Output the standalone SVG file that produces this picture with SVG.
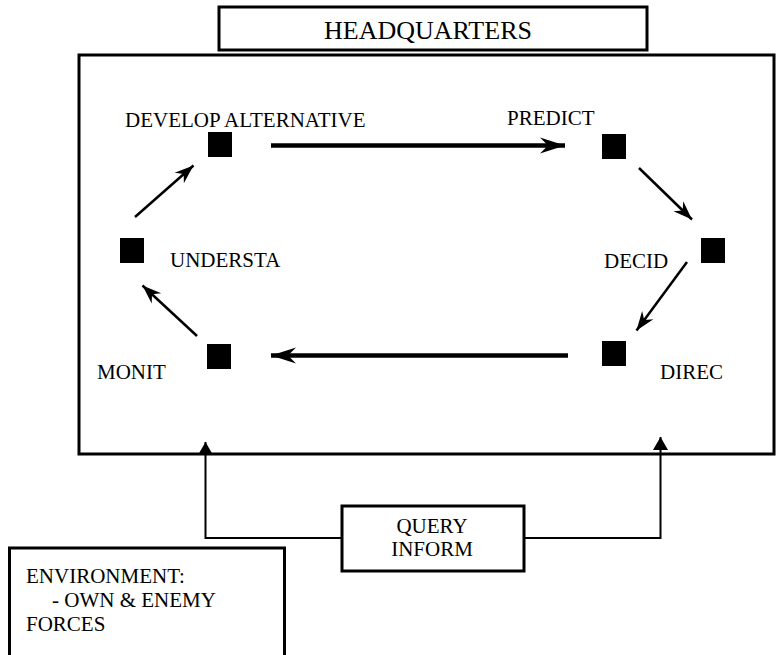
<svg xmlns="http://www.w3.org/2000/svg" width="776" height="655" viewBox="0 0 776 655">
  <style>
    .box { fill: #fff; stroke: #000; stroke-width: 3; }
    .sq { fill: #000; }
    .lbl { font-family: "Liberation Serif", "Times New Roman", serif; font-size: 21px; fill: #000; }
    .hq { font-family: "Liberation Serif", "Times New Roman", serif; font-size: 26px; fill: #000; }
    .thick { stroke: #000; stroke-width: 4.5; fill: none; }
    .thin { stroke: #000; stroke-width: 2.5; fill: none; }
    .link { stroke: #000; stroke-width: 2; fill: none; }
  </style>
  <defs>
    <marker id="barbBig" markerUnits="userSpaceOnUse" orient="auto" markerWidth="30" markerHeight="20" refX="26" refY="9" viewBox="0 0 30 20">
      <path d="M26,9 L1,1 L9,9 L1,17 Z" fill="#000"/>
    </marker>
    <marker id="barbSmall" markerUnits="userSpaceOnUse" orient="auto" markerWidth="24" markerHeight="18" refX="20" refY="8" viewBox="0 0 24 18">
      <path d="M20,8 L1,1 L7,8 L1,15 Z" fill="#000"/>
    </marker>
    <marker id="tri" markerUnits="userSpaceOnUse" orient="auto" markerWidth="16" markerHeight="18" refX="13" refY="8" viewBox="0 0 16 18">
      <path d="M13,8 L0,0.5 L0,15.5 Z" fill="#000"/>
    </marker>
  </defs>

  <!-- headquarters frame -->
  <g id="headquarters">
    <rect class="box" x="219" y="7" width="428" height="43"/>
    <text class="hq" x="428" y="39" text-anchor="middle">HEADQUARTERS</text>
  </g>
  <g id="hq-area">
    <rect class="box" x="79" y="55" width="695" height="399"/>
  </g>

  <!-- cycle nodes -->
  <g id="develop">
    <rect class="sq" x="208" y="132" width="24" height="25"/>
    <text class="lbl" x="125" y="127">DEVELOP ALTERNATIVE</text>
  </g>
  <g id="predict">
    <rect class="sq" x="602" y="134" width="24" height="25"/>
    <text class="lbl" x="507" y="125">PREDICT</text>
  </g>
  <g id="decide">
    <rect class="sq" x="701" y="238" width="24" height="25"/>
    <text class="lbl" x="604" y="268">DECID</text>
  </g>
  <g id="direct">
    <rect class="sq" x="602" y="341" width="24" height="25"/>
    <text class="lbl" x="660" y="379">DIREC</text>
  </g>
  <g id="monitor">
    <rect class="sq" x="207" y="344" width="24" height="25"/>
    <text class="lbl" x="97" y="379">MONIT</text>
  </g>
  <g id="understand">
    <rect class="sq" x="120" y="238" width="24" height="25"/>
    <text class="lbl" x="170" y="267">UNDERSTA</text>
  </g>

  <!-- query / inform node -->
  <g id="query-inform">
    <rect class="box" x="342" y="506" width="182" height="65"/>
    <text class="lbl" x="432" y="533" text-anchor="middle">QUERY</text>
    <text class="lbl" x="432" y="556" text-anchor="middle">INFORM</text>
  </g>

  <!-- environment node -->
  <g id="environment">
    <rect class="box" x="9.5" y="548" width="275" height="120"/>
    <text class="lbl" x="26" y="583">ENVIRONMENT:</text>
    <text class="lbl" x="52" y="607">- OWN &amp; ENEMY</text>
    <text class="lbl" x="26" y="631">FORCES</text>
  </g>

  <!-- connectors -->
  <g id="connectors">
    <line class="thick" x1="271" y1="145.5" x2="565" y2="145.5" marker-end="url(#barbBig)"/>
    <line class="thin" x1="639" y1="168" x2="692" y2="219.5" marker-end="url(#barbSmall)"/>
    <line class="thin" x1="687" y1="262" x2="636.5" y2="330.5" marker-end="url(#barbSmall)"/>
    <line class="thick" x1="568" y1="355.5" x2="271" y2="355.5" marker-end="url(#barbBig)"/>
    <line class="thin" x1="197" y1="336" x2="142.5" y2="285.5" marker-end="url(#barbSmall)"/>
    <line class="thin" x1="135" y1="217" x2="193.5" y2="165.5" marker-end="url(#barbSmall)"/>
    <path class="link" d="M342,538 H205.5 V442" marker-end="url(#tri)"/>
    <path class="link" d="M524,538 H660.5 V437" marker-end="url(#tri)"/>
  </g>
</svg>
